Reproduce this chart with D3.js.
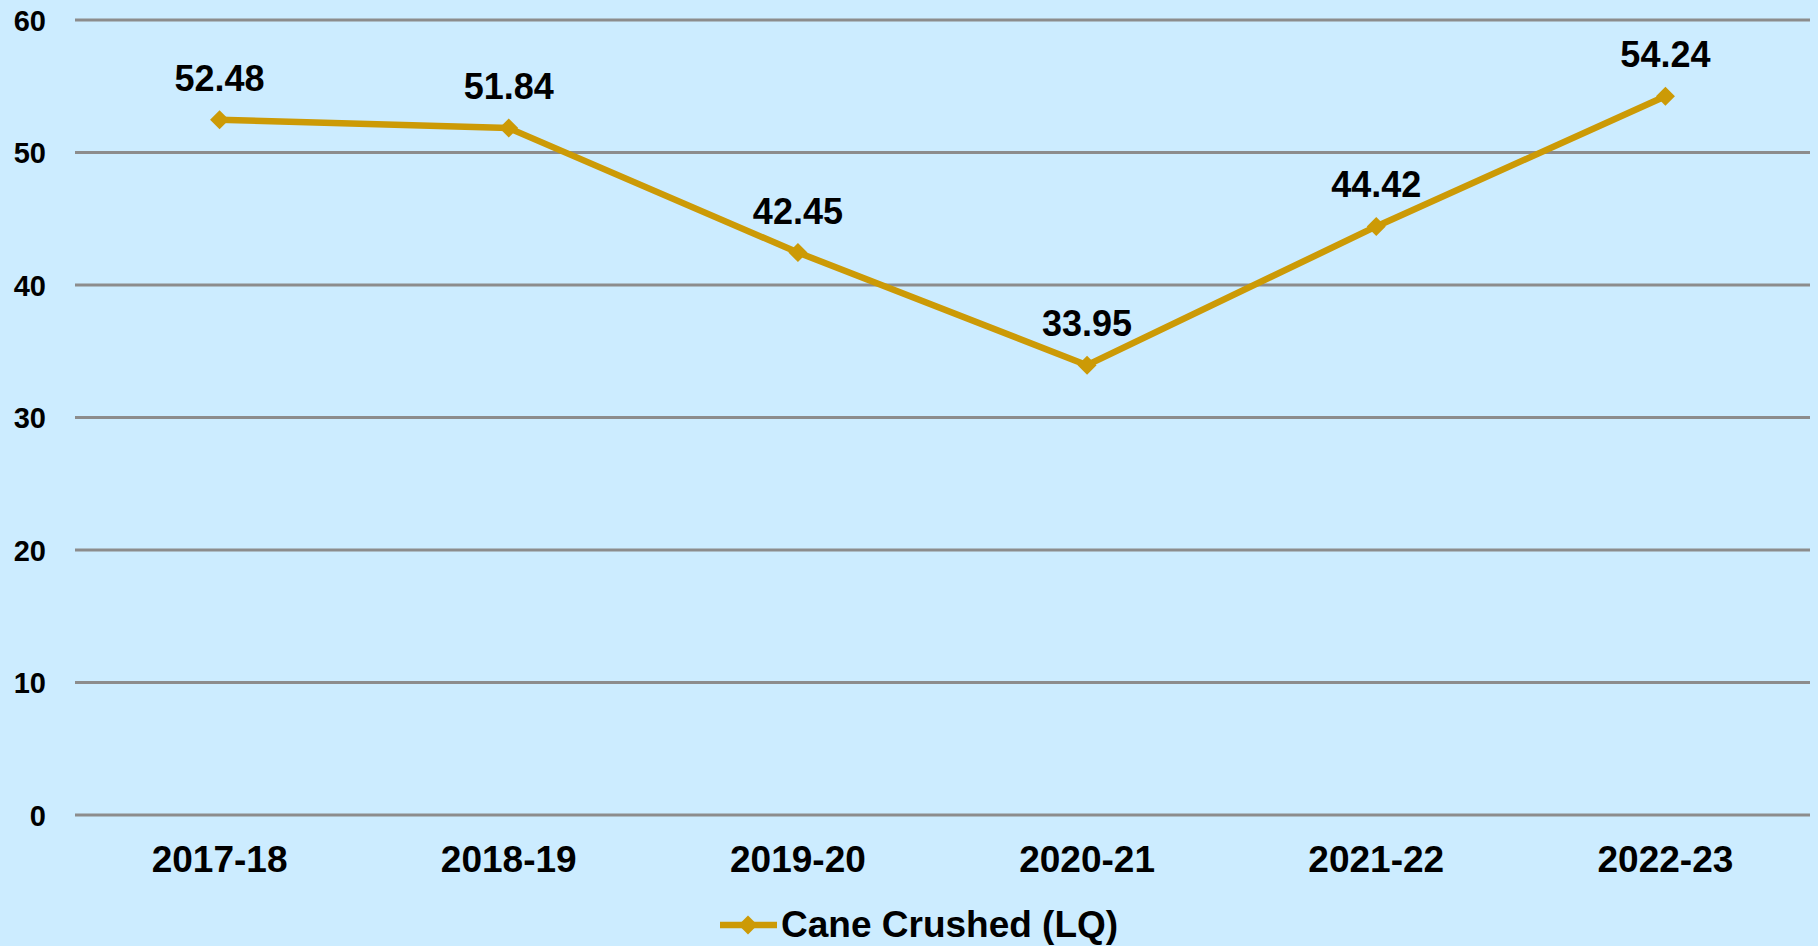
<!DOCTYPE html>
<html>
<head>
<meta charset="utf-8">
<script src="https://cdn.jsdelivr.net/npm/d3@7"></script>
<style>
  html, body { margin: 0; padding: 0; background: #CCECFF; }
  svg { display: block; }
  text { font-family: "Liberation Sans", Arial, sans-serif; font-weight: bold; fill: #000; }
</style>
</head>
<body>
<svg id="chart" width="1818" height="946"></svg>
<script>
const categories = ["2017-18", "2018-19", "2019-20", "2020-21", "2021-22", "2022-23"];
const values = [52.48, 51.84, 42.45, 33.95, 44.42, 54.24];
const yTicks = [0, 10, 20, 30, 40, 50, 60];
const seriesName = "Cane Crushed (LQ)";

const W = 1818, H = 946;
const margin = { left: 75, right: 8, top: 20, bottom: 131 };
const lineColor = "#CC9A06";

const svg = d3.select("#chart");
svg.append("rect").attr("width", W).attr("height", H).attr("fill", "#CCECFF");

const x = d3.scaleBand().domain(categories).range([margin.left, W - margin.right]).padding(0);
const y = d3.scaleLinear().domain([0, 60]).range([H - margin.bottom, margin.top]);

// gridlines
svg.append("g").selectAll("line").data(yTicks).join("line")
  .attr("x1", margin.left).attr("x2", W - margin.right)
  .attr("y1", d => y(d)).attr("y2", d => y(d))
  .attr("stroke", "#8C8C8C").attr("stroke-width", 3);

// y axis labels
const yAxis = d3.axisLeft(y).tickValues(yTicks).tickSize(0).tickPadding(0);
const gy = svg.append("g").attr("transform", `translate(46,0)`).call(yAxis);
gy.select(".domain").remove();
gy.selectAll("text").attr("font-size", 29).attr("font-family", "Liberation Sans, Arial, sans-serif")
  .attr("font-weight", "bold").attr("fill", "#000").attr("dy", "0.35em");

// x axis labels
const xAxis = d3.axisBottom(x).tickSize(0).tickPadding(0);
const gx = svg.append("g").attr("transform", `translate(0,${y(0)})`).call(xAxis);
gx.select(".domain").remove();
gx.selectAll("text").attr("font-size", 37).attr("font-family", "Liberation Sans, Arial, sans-serif")
  .attr("font-weight", "bold").attr("fill", "#000").attr("dy", null).attr("y", 57);

const cx = d => x(d) + x.bandwidth() / 2;

// line
const line = d3.line().x((d, i) => cx(categories[i])).y(d => y(d));
svg.append("path").datum(values).attr("d", line)
  .attr("fill", "none").attr("stroke", lineColor).attr("stroke-width", 6.5)
  .attr("stroke-linejoin", "round");

// markers
const diamond = d3.symbol().type(d3.symbolDiamond2).size(230);
svg.append("g").selectAll("path").data(values).join("path")
  .attr("d", diamond)
  .attr("transform", (d, i) => `translate(${cx(categories[i])},${y(d)})`)
  .attr("fill", lineColor);

// data labels
svg.append("g").selectAll("text").data(values).join("text")
  .attr("x", (d, i) => cx(categories[i]))
  .attr("y", d => y(d) - 29)
  .attr("text-anchor", "middle")
  .attr("font-size", 36)
  .text(d => d.toFixed(2));

// legend
const lg = svg.append("g");
lg.append("line").attr("x1", 720).attr("x2", 777).attr("y1", 925).attr("y2", 925)
  .attr("stroke", lineColor).attr("stroke-width", 6.5);
lg.append("path").attr("d", diamond).attr("transform", "translate(748,925)").attr("fill", lineColor);
lg.append("text").attr("x", 781).attr("y", 937).attr("font-size", 37).text(seriesName);
</script>
</body>
</html>
